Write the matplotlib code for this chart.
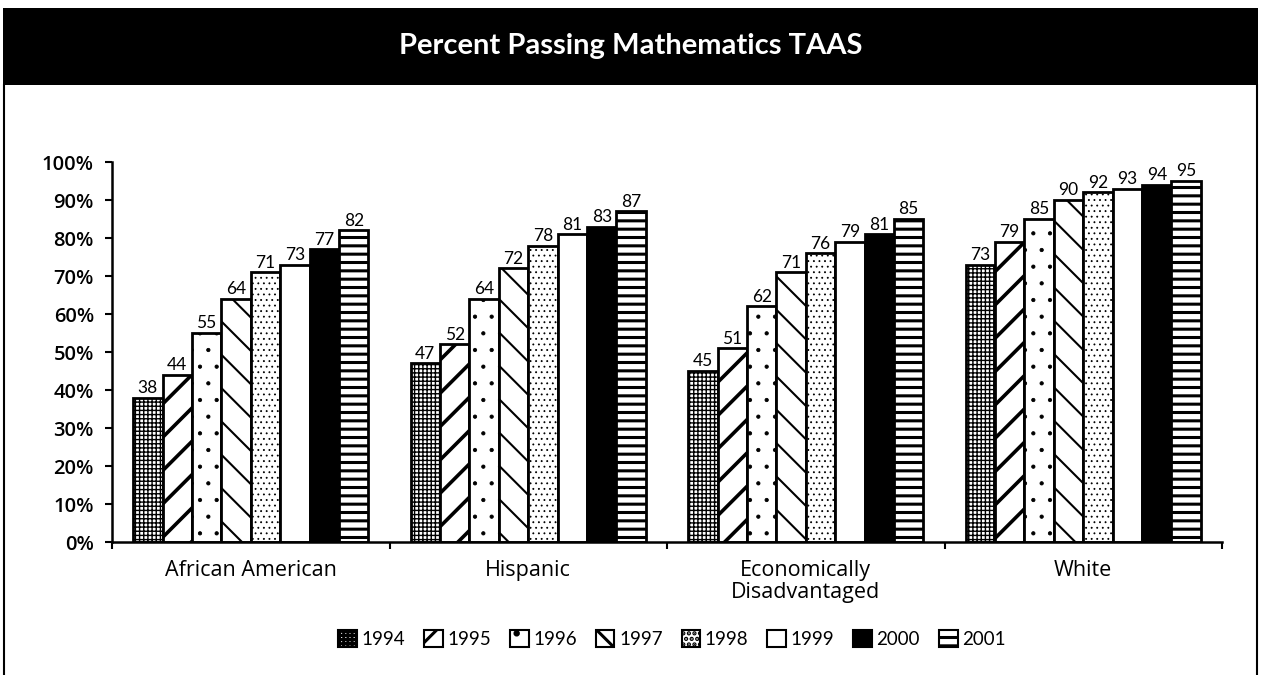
import matplotlib
matplotlib.use("Agg")
import matplotlib.pyplot as plt
from matplotlib.patches import Rectangle, Patch
from matplotlib.lines import Line2D
import numpy as np

# data
groups = ["African American", "Hispanic", "Economically\nDisadvantaged", "White"]
years = ["1994", "1995", "1996", "1997", "1998", "1999", "2000", "2001"]
african_american = [38, 44, 55, 64, 71, 73, 77, 82]
hispanic = [47, 52, 64, 72, 78, 81, 83, 87]
econ_disadv = [45, 51, 62, 71, 76, 79, 81, 85]
white = [73, 79, 85, 90, 92, 93, 94, 95]
y_ticks = [0, 10, 20, 30, 40, 50, 60, 70, 80, 90, 100]

values = np.array([african_american, hispanic, econ_disadv, white])

# fill style per year: (facecolor, hatch, hatch linewidth)
styles = [
    ("white", "++++", 1.0),
    ("white", "/", 2.6),
    ("white", ".", 0.6),
    ("white", "\\", 1.5),
    ("white", "...", 0.6),
    ("white", "", 1.0),
    ("black", "", 1.0),
    ("white", "--", 2.2),
]

narrow = ["Lato", "DejaVu Sans"]
plt.rcParams["font.family"] = ["Open Sans", "DejaVu Sans"]

fig = plt.figure(figsize=(12.62, 6.75), dpi=100)
ax = fig.add_axes([112 / 1262, 133 / 675, 1110 / 1262, 380 / 675])

# title band and frame
fig.patches.append(Rectangle((3 / 1262, 590 / 675), 1255 / 1262, 77 / 675,
                             transform=fig.transFigure, facecolor="black", edgecolor="none"))
fig.lines.append(Line2D([4 / 1262, 4 / 1262], [0, 590 / 675], transform=fig.transFigure,
                        color="black", lw=1.5))
fig.lines.append(Line2D([1257 / 1262, 1257 / 1262], [0, 590 / 675], transform=fig.transFigure,
                        color="black", lw=1.5))
fig.text(0.5, 629 / 675, "Percent Passing Mathematics TAAS", color="white", ha="center",
         va="center", fontsize=21, fontweight="bold", family=narrow)

x = np.arange(len(groups))
width = 0.106
n = len(years)
handles = []
for i, yr in enumerate(years):
    fc, hatch, hlw = styles[i]
    offs = (i - (n - 1) / 2) * width
    plt.rcParams["hatch.linewidth"] = hlw
    bars = ax.bar(x + offs, values[:, i], width, facecolor=fc, edgecolor="black",
                  linewidth=2, hatch=hatch, zorder=2)
    for b in bars:
        if hasattr(b, "set_hatch_linewidth"):
            b.set_hatch_linewidth(hlw)
    for xi, v in zip(x + offs, values[:, i]):
        ax.text(xi, v + 0.4, str(v), ha="center", va="bottom", fontsize=12.5, family=narrow)
    h = Patch(facecolor=fc, edgecolor="black", linewidth=1.5, hatch=hatch, label=yr)
    if hasattr(h, "set_hatch_linewidth"):
        h.set_hatch_linewidth(hlw)
    handles.append(h)

ax.set_xlim(-0.5, len(groups) - 0.5)
ax.set_ylim(0, 100)
ax.set_yticks(y_ticks)
ax.set_yticklabels(["{}%".format(t) for t in y_ticks], fontsize=14.5, fontweight="semibold")
ax.set_xticks(np.arange(len(groups) + 1) - 0.5, minor=False)
ax.set_xticklabels([])
ax.set_xticks(x, minor=True)
ax.set_xticklabels(groups, minor=True, fontsize=15.5, linespacing=1.05)
ax.tick_params(axis="x", which="minor", length=0, pad=13)
ax.tick_params(axis="x", which="major", direction="out", length=5, width=1.5)
ax.tick_params(axis="y", direction="out", length=5, width=1.5, pad=8)
for s in ["top", "right"]:
    ax.spines[s].set_visible(False)
for s in ["left", "bottom"]:
    ax.spines[s].set_linewidth(1.8)

fig.legend(handles=handles, loc="center", bbox_to_anchor=(672 / 1262, 36 / 675), ncol=8,
           frameon=False, handlelength=1.0, handleheight=1.0,
           handletextpad=0.25, columnspacing=1.0, prop={"family": narrow, "size": 13.5})

fig.savefig("out.png", dpi=100)
